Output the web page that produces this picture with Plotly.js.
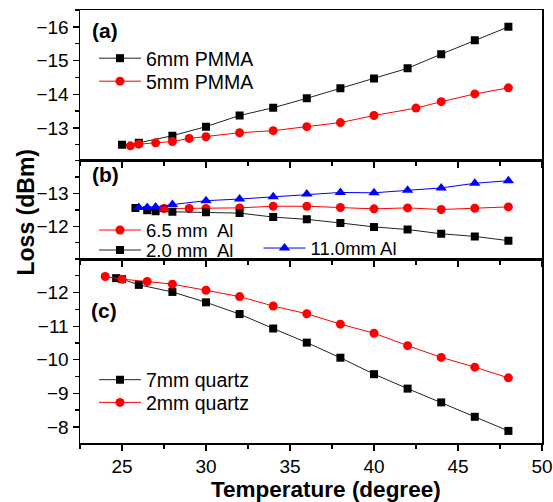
<!DOCTYPE html>
<html>
<head>
<meta charset="utf-8">
<script src="https://cdn.plot.ly/plotly-3.0.1.min.js"></script>
<style>html,body{margin:0;padding:0;background:#fff;}#chart{width:553px;height:502px;}</style>
</head>
<body>
<div id="chart"></div>
<script>
// Panel (a)
var xA6 = [25, 26, 28, 30, 32, 34, 36, 38, 40, 42, 44, 46, 48];
var yA6 = [-12.50, -12.56, -12.77, -13.04, -13.37, -13.60, -13.88, -14.18, -14.47, -14.77, -15.19, -15.60, -16.00];
var xA5 = [25.5, 26, 27, 28, 29, 30, 32, 34, 36, 38, 40, 42.5, 44, 46, 48];
var yA5 = [-12.47, -12.52, -12.56, -12.60, -12.69, -12.74, -12.86, -12.92, -13.04, -13.16, -13.37, -13.59, -13.78, -14.01, -14.19];
// Panel (b)
var xB65 = [27.5, 29, 30, 32, 34, 36, 38, 40, 42, 44, 46, 48];
var yB65 = [-12.54, -12.54, -12.54, -12.56, -12.61, -12.61, -12.57, -12.53, -12.56, -12.51, -12.55, -12.59];
var xB20 = [25.8, 26.5, 27, 28, 30, 32, 34, 36, 38, 40, 42, 44, 46, 48];
var yB20 = [-12.56, -12.49, -12.46, -12.44, -12.43, -12.40, -12.28, -12.21, -12.10, -11.98, -11.90, -11.77, -11.69, -11.56];
var xB11 = [26, 26.5, 27, 28, 30, 32, 34, 36, 38, 40, 42, 44, 46, 48];
var yB11 = [-12.57, -12.57, -12.59, -12.66, -12.78, -12.83, -12.90, -12.98, -13.03, -13.02, -13.10, -13.17, -13.31, -13.39];
// Panel (c)
var xC7 = [24.65, 25, 26, 28, 30, 32, 34, 36, 38, 40, 42, 44, 46, 48];
var yC7 = [-12.43, -12.40, -12.23, -12.02, -11.71, -11.36, -10.93, -10.51, -10.06, -9.57, -9.14, -8.73, -8.30, -7.88];
var xC2 = [24, 25, 26.5, 28, 30, 32, 34, 36, 38, 40, 42, 44, 46, 48];
var yC2 = [-12.48, -12.40, -12.33, -12.25, -12.07, -11.88, -11.60, -11.37, -11.06, -10.79, -10.42, -10.07, -9.78, -9.46];

var names = ['6mm PMMA', '5mm PMMA', '6.5 mm\u00a0 Al', '2.0 mm\u00a0 Al', '11.0mm Al', '7mm quartz', '2mm quartz'];
var xTicks = [25, 30, 35, 40, 45, 50];
var yTicksA = [-16, -15, -14, -13];
var yTicksB = [-13, -12];
var yTicksC = [-12, -11, -10, -9, -8];

var FONT = 'Liberation Sans, Arial, sans-serif';
var BLACK = '#000000', RED = '#ff0000', BLUE = '#0000ff';

function tr(x, y, xa, ya, name, color, symbol, size, leg) {
  return {
    x: x, y: y, xaxis: xa, yaxis: ya, name: name, type: 'scatter', mode: 'lines+markers',
    line: {color: color === BLACK ? '#222222' : color, width: 1},
    marker: {color: color, symbol: symbol, size: size, line: {width: 0}},
    legend: leg, showlegend: true, hoverinfo: 'skip'
  };
}

var data = [
  tr(xA6, yA6, 'x3', 'y3', names[0], BLACK, 'square', 8, 'legend'),
  tr(xA5, yA5, 'x3', 'y3', names[1], RED, 'circle', 9, 'legend2'),
  tr(xB65, yB65, 'x2', 'y2', names[2], RED, 'circle', 9, 'legend3'),
  tr(xB20, yB20, 'x2', 'y2', names[3], BLACK, 'square', 8, 'legend4'),
  tr(xB11, yB11, 'x2', 'y2', names[4], BLUE, 'triangle-up', 10, 'legend5'),
  tr(xC7, yC7, 'x', 'y', names[5], BLACK, 'square', 8, 'legend6'),
  tr(xC2, yC2, 'x', 'y', names[6], RED, 'circle', 9, 'legend7')
];

var T = 10, B = 59, L = 80, R = 11, H = 502 - T - B, W = 553 - L - R;
function py(p) { return (443 - p) / H; }
function px(p) { return (p - L) / W; }

var dC = [0, 0.4249], dB = [0.4249, 0.652], dA = [0.652, 1];

function xax(anchor, labels) {
  return {
    anchor: anchor, range: [22.5, 50], tickvals: xTicks,
    showticklabels: labels, ticks: 'outside', ticklen: 6, tickwidth: 1.3, tickcolor: '#000',
    minor: {dtick: 2.5, tick0: 0, ticks: 'outside', ticklen: 4, tickwidth: 1.3, tickcolor: '#000', showgrid: false},
    showline: true, linecolor: '#000', linewidth: 1.5, mirror: true,
    showgrid: false, zeroline: false, fixedrange: true,
    tickfont: {family: FONT, size: 19, color: '#000'}
  };
}
function yax(anchor, dom, range, tv) {
  return {
    anchor: anchor, domain: dom, range: range, tickvals: tv,
    ticks: 'outside', ticklen: 6, tickwidth: 1.3, tickcolor: '#000',
    minor: {dtick: 0.5, tick0: 0, ticks: 'outside', ticklen: 4, tickwidth: 1.3, tickcolor: '#000', showgrid: false},
    showline: true, linecolor: '#000', linewidth: 1.5, mirror: true,
    showgrid: false, zeroline: false, fixedrange: true,
    tickfont: {family: FONT, size: 19, color: '#000'}
  };
}
function leg(xp, yp, fs) {
  return {x: px(xp), y: py(yp), xanchor: 'left', yanchor: 'middle', bgcolor: 'rgba(0,0,0,0)',
    borderwidth: 0, itemwidth: 42, font: {family: FONT, size: fs || 19.5, color: '#000'}, itemclick: false, itemdoubleclick: false};
}

var layout = {
  width: 553, height: 502, margin: {l: L, r: R, t: T, b: B}, paper_bgcolor: '#fff', plot_bgcolor: '#fff',
  font: {family: FONT, color: '#000'},
  xaxis: xax('y', true), xaxis2: xax('y2', false), xaxis3: xax('y3', false),
  yaxis: yax('x', dC, [-7.52, -13], yTicksC),
  yaxis2: yax('x2', dB, [-11, -14], yTicksB),
  yaxis3: yax('x3', dA, [-12.03, -16.5], yTicksA),
  legend: leg(94, 58.5), legend2: leg(94, 81.5),
  legend3: leg(94, 230.5, 18.5), legend4: leg(94, 250.5, 18.5), legend5: leg(258.5, 248.5, 18.5),
  legend6: leg(94, 380), legend7: leg(94, 402.7),
  annotations: [
    {text: '<b>(a)</b>', xref: 'paper', yref: 'paper', x: px(90), y: py(30), xanchor: 'left', yanchor: 'middle', showarrow: false, font: {family: FONT, size: 21, color: '#000'}},
    {text: '<b>(b)</b>', xref: 'paper', yref: 'paper', x: px(90), y: py(175), xanchor: 'left', yanchor: 'middle', showarrow: false, font: {family: FONT, size: 21, color: '#000'}},
    {text: '<b>(c)</b>', xref: 'paper', yref: 'paper', x: px(89), y: py(310), xanchor: 'left', yanchor: 'middle', showarrow: false, font: {family: FONT, size: 21, color: '#000'}},
    {text: '<b>Temperature (degree)</b>', xref: 'paper', yref: 'paper', x: px(326), y: py(490), xanchor: 'center', yanchor: 'middle', showarrow: false, font: {family: FONT, size: 22.5, color: '#000'}},
    {text: '<b>Loss (dBm)</b>', xref: 'paper', yref: 'paper', x: px(25.5), y: py(212), xanchor: 'center', yanchor: 'middle', textangle: -90, showarrow: false, font: {family: FONT, size: 23, color: '#000'}}
  ]
};

Plotly.newPlot('chart', data, layout, {staticPlot: true, displayModeBar: false});
</script>
</body>
</html>
